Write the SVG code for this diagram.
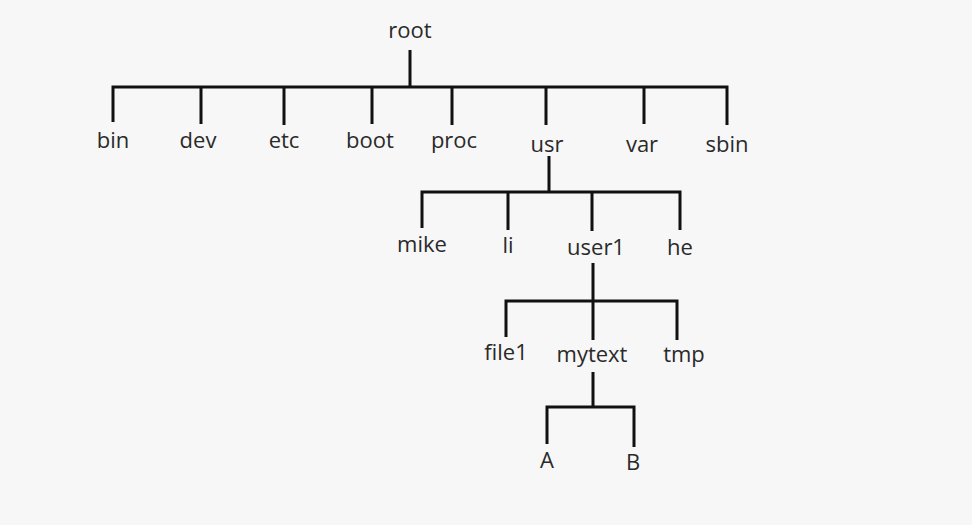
<svg xmlns="http://www.w3.org/2000/svg" width="972" height="525" viewBox="0 0 972 525">
<style>
.bg{fill:#f7f7f7}
.lbl{font-family:"Open Sans","Noto Sans",sans-serif;font-size:22px;fill:#2a2a2a;text-anchor:middle}
.con{stroke:#111;stroke-width:3;fill:none;stroke-linecap:butt;stroke-linejoin:miter}
</style>
<rect class="bg" x="0" y="0" width="972" height="525"/>
<g id="connectors">
<path class="con" d="M410,50 V87 M113,122 V87 H727 V125 M201,87 V124 M284,87 V125 M372,87 V124 M452,87 V125 M546,87 V125 M644,87 V124"/>
<path class="con" d="M549,156 V192 M422,228 V192 H680 V230 M508,192 V230 M592,192 V231"/>
<path class="con" d="M593,263 V301 M506,337 V301 H677 V340 M593,301 V340"/>
<path class="con" d="M593,372 V407 M547,444 V407 H634 V447"/>
</g>
<g id="root"><text class="lbl" x="410" y="38">root</text></g>
<g id="bin"><text class="lbl" x="113" y="148">bin</text></g>
<g id="dev"><text class="lbl" x="198" y="148">dev</text></g>
<g id="etc"><text class="lbl" x="284" y="148">etc</text></g>
<g id="boot"><text class="lbl" x="370" y="148">boot</text></g>
<g id="proc"><text class="lbl" x="454" y="148">proc</text></g>
<g id="usr"><text class="lbl" x="547" y="152">usr</text></g>
<g id="var"><text class="lbl" x="642" y="152">var</text></g>
<g id="sbin"><text class="lbl" x="727" y="152">sbin</text></g>
<g id="mike"><text class="lbl" x="422" y="252">mike</text></g>
<g id="li"><text class="lbl" x="508" y="253">li</text></g>
<g id="user1"><text class="lbl" x="596" y="255">user1</text></g>
<g id="he"><text class="lbl" x="680" y="255">he</text></g>
<g id="file1"><text class="lbl" x="506" y="360">file1</text></g>
<g id="mytext"><text class="lbl" x="592" y="362">mytext</text></g>
<g id="tmp"><text class="lbl" x="684" y="362">tmp</text></g>
<g id="A"><text class="lbl" x="547" y="468">A</text></g>
<g id="B"><text class="lbl" x="633" y="470">B</text></g>
</svg>
